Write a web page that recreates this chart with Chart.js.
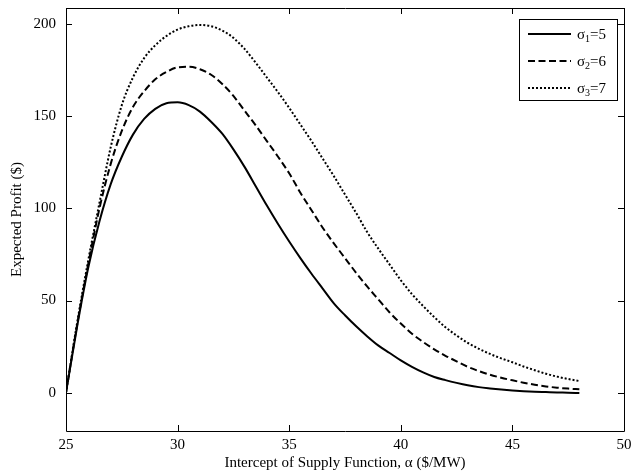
<!DOCTYPE html>
<html>
<head>
<meta charset="utf-8">
<script src="https://cdn.jsdelivr.net/npm/chart.js@4.4.0/dist/chart.umd.min.js"></script>
<style>
  html, body { margin: 0; padding: 0; background: #fff; }
  #profitChart { display: block; }
</style>
</head>
<body>
<canvas id="profitChart" width="641" height="475"></canvas>
<script>
// intercept of supply function (x values)
const alpha = [25, 25.5, 26, 26.5, 27, 27.5, 28, 28.5, 29, 29.5, 30, 30.5, 31, 31.5, 32, 32.5,
  33, 33.5, 34, 34.5, 35, 35.5, 36, 36.5, 37, 37.5, 38, 38.5, 39, 39.5, 40, 40.5,
  41, 41.5, 42, 42.5, 43, 43.5, 44, 44.5, 45, 45.5, 46, 46.5, 47, 47.5, 48];

// expected profit, sigma1 = 5
const profitS1 = [0, 36, 68, 93, 113, 128, 140, 148.5, 154, 157, 157.5, 156, 152.5, 147, 140.5, 132,
  122.5, 112, 101.5, 91.5, 82, 73, 64.5, 56.5, 48.5, 42, 36, 30.5, 25.5, 21.5, 17.5, 14,
  11, 8.5, 6.8, 5.3, 4, 3, 2.3, 1.7, 1.2, 0.8, 0.5, 0.3, 0.1, 0, -0.2];

// expected profit, sigma2 = 6
const profitS2 = [0, 37, 70, 100, 124, 142, 155, 163.5, 170, 174, 176.5, 176.8, 175.5, 172.5, 167.5, 161,
  153, 145, 136.5, 128, 119, 108.5, 99, 89.5, 81, 73, 65, 57.5, 50.5, 43.5, 37.5, 32,
  27.5, 23.5, 20, 17, 14, 11.7, 9.7, 8.1, 6.7, 5.4, 4.3, 3.4, 2.7, 2.2, 1.8];

// expected profit, sigma3 = 7
const profitS3 = [0, 38, 72, 103, 133, 156, 171, 181.5, 188.5, 193.5, 197, 198.8, 199.5, 198.8, 196.5, 192.5,
  186.5, 179, 171, 163, 154.5, 145.5, 136.5, 127, 117.5, 107.5, 97.5, 87, 78, 69.5, 61, 53.5,
  47, 41, 35.5, 31, 27, 23.8, 21, 18.6, 16.5, 14.2, 12.2, 10.3, 8.7, 7.4, 6.3];

const xTicks = [25, 30, 35, 40, 45, 50];
const yTicks = [0, 50, 100, 150, 200];

// legend text pieces: sigma, subscript, value
const legendSubs = ['1', '2', '3'];
const legendVals = ['=5', '=6', '=7'];

const FONT = '"Liberation Serif", "Times New Roman", serif';

function toPoints(ys) {
  return alpha.map((a, i) => ({ x: a, y: ys[i] }));
}

// box + inward ticks like the original plot
const frameTicks = {
  id: 'frameTicks',
  afterDraw(chart) {
    const { ctx, chartArea: ca, scales } = chart;
    const len = 6;
    ctx.save();
    ctx.strokeStyle = '#000';
    ctx.lineWidth = 1;
    ctx.beginPath();
    ctx.rect(Math.round(ca.left) + 0.5, Math.round(ca.top) + 0.5,
      Math.round(ca.right - ca.left), Math.round(ca.bottom - ca.top));
    xTicks.forEach(v => {
      const px = Math.round(scales.x.getPixelForValue(v)) + 0.5;
      ctx.moveTo(px, ca.bottom); ctx.lineTo(px, ca.bottom - len);
      ctx.moveTo(px, ca.top); ctx.lineTo(px, ca.top + len);
    });
    yTicks.forEach(v => {
      const py = Math.round(scales.y.getPixelForValue(v)) + 0.5;
      ctx.moveTo(ca.left, py); ctx.lineTo(ca.left + len, py);
      ctx.moveTo(ca.right, py); ctx.lineTo(ca.right - len, py);
    });
    ctx.stroke();
    ctx.restore();
  }
};

// MATLAB style legend with subscripted sigma
const boxLegend = {
  id: 'boxLegend',
  afterDraw(chart) {
    const { ctx } = chart;
    const bx = 519, by = 19, bw = 98, bh = 81;
    ctx.save();
    ctx.fillStyle = '#fff';
    ctx.fillRect(bx, by, bw, bh);
    ctx.strokeStyle = '#000';
    ctx.lineWidth = 1;
    ctx.strokeRect(bx + 0.5, by + 0.5, bw, bh);
    chart.data.datasets.forEach((ds, i) => {
      const y = by + 15 + i * 27;
      ctx.beginPath();
      ctx.setLineDash(ds.borderDash || []);
      ctx.lineWidth = ds.borderWidth;
      ctx.strokeStyle = ds.borderColor;
      ctx.moveTo(bx + 9, y);
      ctx.lineTo(bx + 52, y);
      ctx.stroke();
      ctx.setLineDash([]);
      ctx.fillStyle = '#000';
      ctx.textBaseline = 'alphabetic';
      let tx = bx + 58;
      ctx.font = '15px ' + FONT;
      ctx.fillText('σ', tx, y + 5);
      tx += ctx.measureText('σ').width;
      ctx.font = '10px ' + FONT;
      ctx.fillText(legendSubs[i], tx, y + 8);
      tx += ctx.measureText(legendSubs[i]).width;
      ctx.font = '15px ' + FONT;
      ctx.fillText(legendVals[i], tx, y + 5);
    });
    ctx.restore();
  }
};

const ctx = document.getElementById('profitChart').getContext('2d');
new Chart(ctx, {
  type: 'line',
  data: {
    datasets: [
      { label: 'σ1=5', data: toPoints(profitS1), borderColor: '#000', borderWidth: 2, borderDash: [] },
      { label: 'σ2=6', data: toPoints(profitS2), borderColor: '#000', borderWidth: 2, borderDash: [7, 3.5] },
      { label: 'σ3=7', data: toPoints(profitS3), borderColor: '#000', borderWidth: 2, borderDash: [2, 2] }
    ]
  },
  options: {
    responsive: false,
    animation: false,
    elements: {
      point: { radius: 0 },
      line: { cubicInterpolationMode: 'monotone', fill: false }
    },
    layout: { padding: { top: 8, right: 17, left: 0, bottom: 0 } },
    plugins: { legend: { display: false }, tooltip: { enabled: false } },
    scales: {
      x: {
        type: 'linear',
        min: 25,
        max: 50,
        grid: { display: false },
        border: { display: false },
        afterBuildTicks: s => { s.ticks = xTicks.map(v => ({ value: v })); },
        afterFit: s => { s.height = 44; },
        ticks: { color: '#000', padding: -3, maxRotation: 0, font: { family: FONT, size: 15 } },
        title: {
          display: true,
          text: 'Intercept of Supply Function, α ($/MW)',
          color: '#000',
          padding: { top: 0, bottom: 3 },
          font: { family: FONT, size: 15 }
        }
      },
      y: {
        min: -20.8,
        max: 208.7,
        grid: { display: false },
        border: { display: false },
        afterBuildTicks: s => { s.ticks = yTicks.map(v => ({ value: v })); },
        afterFit: s => { s.width = 66; s.paddingTop = 0; s.paddingBottom = 0; },
        ticks: { color: '#000', padding: 2, font: { family: FONT, size: 15 } },
        title: {
          display: true,
          text: 'Expected Profit ($)',
          color: '#000',
          padding: { top: 8, bottom: 0 },
          font: { family: FONT, size: 15 }
        }
      }
    }
  },
  plugins: [frameTicks, boxLegend]
});
</script>
</body>
</html>
